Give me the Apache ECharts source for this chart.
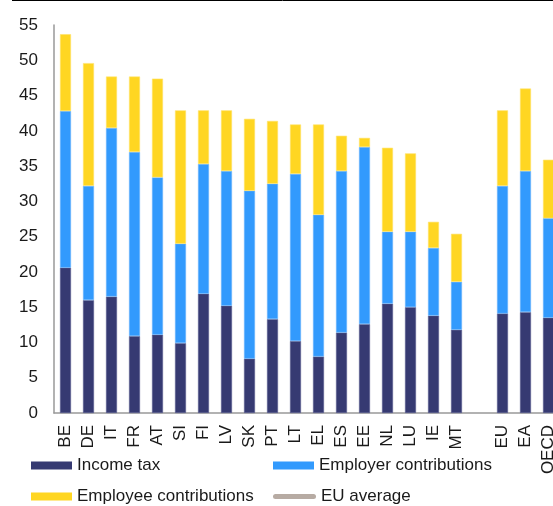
<!DOCTYPE html>
<html>
<head>
<meta charset="utf-8">
<script src="https://cdn.jsdelivr.net/npm/echarts@6/dist/echarts.min.js"></script>
<style>
  html, body { margin: 0; padding: 0; background: #fff; }
  #chart { width: 553px; height: 506px; }
</style>
</head>
<body>
<div id="chart"></div>
<script>
// countries, then an empty slot before the aggregates
var categories = ['BE', 'DE', 'IT', 'FR', 'AT', 'SI', 'FI', 'LV', 'SK', 'PT', 'LT', 'EL', 'ES', 'EE', 'NL', 'LU', 'IE', 'MT', '', 'EU', 'EA', 'OECD'];

var incomeTax = [20.6, 16.0, 16.5, 10.9, 11.1, 9.9, 16.9, 15.2, 7.7, 13.3, 10.2, 8.0, 11.4, 12.6, 15.5, 15.0, 13.8, 11.8, null, 14.1, 14.3, 13.5];
var employerContrib = [22.2, 16.2, 23.9, 26.1, 22.3, 14.1, 18.4, 19.1, 23.8, 19.2, 23.7, 20.1, 22.9, 25.1, 10.2, 10.7, 9.6, 6.8, null, 18.1, 20.0, 14.1];
var employeeContrib = [10.9, 17.4, 7.3, 10.7, 14.0, 18.9, 7.6, 8.6, 10.2, 8.9, 7.0, 12.8, 5.0, 1.3, 11.9, 11.1, 3.7, 6.8, null, 10.7, 11.7, 8.3];
var euAverage = [];

var yTicks = { min: 0, max: 55, step: 5 };

var chart = echarts.init(document.getElementById('chart'));

var font = 'Liberation Sans, Arial, sans-serif';
var barW = 11;

// one legend per entry so the 2x2 layout sits where the original has it
var legendAt = function(name, left, top){
    return {
        left: left,
        top: top,
        itemWidth: 41,
        itemHeight: 8,
        icon: 'rect',
        itemStyle: { borderWidth: 0 },
        textStyle: { fontSize: 17, color: '#1a1a1a', fontFamily: font },
        data: [name]
    };
};

var option = {
    animation: false,
    textStyle: { fontFamily: font },
    // plot runs past the right edge, OECD gets clipped like in the original
    grid: { left: 54, top: 25, height: 388, width: 506, containLabel: false, outerBoundsMode: 'none' },
    graphic: [
        {
            type: 'line',
            shape: { x1: 12, y1: 0.5, x2: 553, y2: 0.5 },
            style: { stroke: '#000', lineWidth: 1 }
        }
    ],
    legend: [
        legendAt('Income tax', 26, 452),
        legendAt('Employer contributions', 268, 452),
        legendAt('Employee contributions', 26, 483),
        {
            left: 268,
            top: 483,
            itemWidth: 43,
            itemHeight: 5,
            icon: 'path://M2.5,0 L40.5,0 A2.5,2.5 0 0 1 40.5,5 L2.5,5 A2.5,2.5 0 0 1 2.5,0 Z',
            itemStyle: { color: '#b7aba3', borderWidth: 0 },
            textStyle: { fontSize: 17, color: '#1a1a1a', fontFamily: font },
            data: ['EU average']
        }
    ],
    xAxis: {
        type: 'category',
        data: categories,
        axisLine: { lineStyle: { color: '#999', width: 1.5 } },
        axisTick: { show: false },
        axisLabel: {
            interval: 0,
            rotate: 90,
            margin: 12,
            fontSize: 17,
            color: '#1a1a1a',
            fontFamily: font
        }
    },
    yAxis: {
        type: 'value',
        min: yTicks.min,
        max: yTicks.max,
        interval: yTicks.step,
        splitLine: { show: false },
        axisTick: { show: false },
        axisLine: { show: true, lineStyle: { color: '#999', width: 1.5 } },
        axisLabel: { fontSize: 17, color: '#1a1a1a', margin: 16, fontFamily: font }
    },
    series: [
        {
            name: 'Income tax',
            type: 'bar',
            stack: 'total',
            barWidth: barW,
            itemStyle: { color: '#363a72', borderColor: '#5a5e90', borderWidth: 0.6 },
            data: incomeTax
        },
        {
            name: 'Employer contributions',
            type: 'bar',
            stack: 'total',
            barWidth: barW,
            itemStyle: { color: '#329afd', borderColor: '#6cb6fd', borderWidth: 0.6 },
            data: employerContrib
        },
        {
            name: 'Employee contributions',
            type: 'bar',
            stack: 'total',
            barWidth: barW,
            itemStyle: { color: '#ffd622', borderColor: '#ffe36a', borderWidth: 0.6 },
            data: employeeContrib
        },
        {
            name: 'EU average',
            type: 'line',
            symbol: 'none',
            lineStyle: { color: '#b7aba3', width: 5, cap: 'round' },
            itemStyle: { color: '#b7aba3' },
            data: euAverage
        }
    ]
};

chart.setOption(option);
</script>
</body>
</html>
